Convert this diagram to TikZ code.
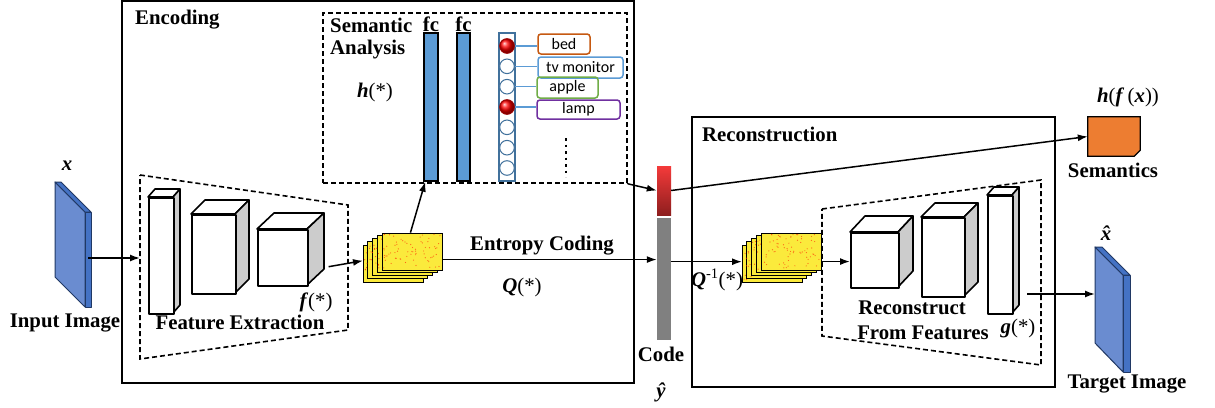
\documentclass[tikz,border=0pt]{standalone}
\usepackage{fontspec}
\setmainfont{Liberation Serif}
\newfontfamily\lblfont{Carlito}
\usetikzlibrary{arrows.meta,calc}
\definecolor{fcblue}{HTML}{5B9BD5}
\definecolor{colblue}{HTML}{41719C}
\definecolor{bedc}{HTML}{C65911}
\definecolor{tvc}{HTML}{5B9BD5}
\definecolor{applec}{HTML}{70AD47}
\definecolor{lampc}{HTML}{7030A0}
\definecolor{imgfront}{HTML}{6A8CD0}
\definecolor{imgside}{HTML}{4472C4}
\definecolor{imgedge}{HTML}{203864}
\definecolor{fmyellow}{HTML}{FBEA3C}
\definecolor{semorange}{HTML}{ED7D31}
\definecolor{codegray}{HTML}{808080}
\definecolor{codetop}{HTML}{F43A3A}
\definecolor{codebot}{HTML}{8E1E1E}

\newcommand\cuboid[7]{%
  \filldraw[cubeedge, fill=white] (#2,#3) -- ++(#6,-#7) -- ++(#4,0) -- ++(-#6,#7) -- cycle;
  \filldraw[cubeedge, fill=gray!40] (#2+#4,#3) -- ++(#6,-#7) -- ++(0,#5) -- ++(-#6,#7) -- cycle;
  \node[cubeedge, fill=white, inner sep=0pt, minimum width=#4pt, minimum height=#5pt, anchor=north west] (#1) at (#2,#3) {};
}
\newcommand\fmstack[3]{%
  \node[inner sep=0pt, minimum width=60pt, minimum height=37pt, anchor=north west] (#1b) at (#2,#3) {};
  \foreach \i in {0,...,3} \draw[fmsheet] (#2+4.75*\i,#3-3.1*\i) rectangle ++(60,37);
  \foreach \i in {0,...,3} \foreach \k in {1,...,6}
    \fill[red!80!orange, opacity=0.7] (#2+1+4*rnd+4.75*\i,#3+2+33*rnd-3.1*\i) circle (0.6pt);
  \node[fmsheet, inner sep=0pt, minimum width=60pt, minimum height=37pt, anchor=north west] (#1) at (#2+19,#3-12.4) {};
  \foreach \k in {1,...,70}
    \fill[red!75!orange, opacity=0.65] ($(#1.north west)+(1.5+57*rnd,1.5+34*rnd)$) circle (0.6pt);
}

\begin{document}
\begin{tikzpicture}[x=1pt,y=-1pt,
  title/.style={font=\fontsize{20.8}{22}\selectfont\bfseries, inner sep=0pt},
  mathlbl/.style={font=\fontsize{20.8}{22}\selectfont, inner sep=0pt},
  frame/.style={draw, line width=1.6pt, inner sep=0pt},
  dbox/.style={draw, line width=1.6pt, dash pattern=on 5pt off 3pt},
  arr/.style={-{Latex[length=10pt,width=7pt]}, line width=1.5pt},
  cubeedge/.style={draw, line width=1.6pt, line join=round},
  fmsheet/.style={draw, fill=fmyellow, line width=0.9pt},
  fcbar/.style={draw, fill=fcblue, line width=1.5pt, inner sep=0pt},
  neuron/.style={circle, draw=colblue, fill=white, line width=1pt, minimum size=14.6pt, inner sep=0pt},
  active/.style={neuron, draw=red!60!black, ball color=red},
  tag/.style={draw=#1, rounded corners=3pt, line width=1.5pt, font=\lblfont\fontsize{16}{18}\selectfont, inner sep=0pt},
  tagline/.style={draw=fcblue, line width=1.5pt},
  slab/.style={draw=imgedge, line width=1pt, line join=round}
]
\pgfmathsetseed{11}
\useasboundingbox (0,0) rectangle (1215,407);
\fill[white] (0,0) rectangle (1215,407);

% ---------- Encoding ----------
\node[frame, minimum width=512pt, minimum height=382pt] (enc) at (378,192) {};
\node[title, anchor=west] (enctitle) at (135,20) {Encoding};

% Semantic analysis
\node[dbox, minimum width=304pt, minimum height=170pt, inner sep=0pt] (sem) at (475,98) {};
\node[title, anchor=west] (semt1) at (330,25) {Semantic};
\node[title, anchor=west] (semt2) at (330,50) {Analysis};
\node[mathlbl] (hstar) at (375,92) {\textbf{\textit{h}}(*)};
\node[fcbar, minimum width=14pt, minimum height=148pt] (fc1) at (431,107) {};
\node[fcbar, minimum width=13pt, minimum height=148pt] (fc2) at (463.5,107) {};
\node[title, anchor=base] (fct1) at (431,31) {fc};
\node[title, anchor=base] (fct2) at (463.5,31) {fc};
\node[draw=colblue, line width=1.2pt, minimum width=16pt, minimum height=148pt, inner sep=0pt] (col) at (507,107) {};
\foreach \cy/\st [count=\k] in {46/active,66.3/neuron,86.7/neuron,107/active,127.3/neuron,147.7/neuron,168/neuron}
  \node[\st] (n\k) at (507,\cy) {};
\node[tag=bedc, minimum width=52pt, minimum height=20pt] (bed) at (564,44) {bed};
\node[tag=tvc, minimum width=85pt, minimum height=21pt] (tv) at (580.5,67.5) {tv monitor};
\node[tag=applec, minimum width=61pt, minimum height=21pt] (apple) at (567.5,87.5) {apple};
\node[tag=lampc, minimum width=83pt, minimum height=19pt] (lamp) at (578.5,109.5) {lamp};
\draw[tagline] (n1.east) -- (n1.east -| bed.west);
\draw[tagline] (n2.east) -- (n2.east -| tv.west);
\draw[tagline] (n3.east) -- (n3.east -| apple.west);
\draw[tagline] (n4.east) -- (n4.east -| lamp.west);
\draw[line width=2.5pt, dash pattern=on 2.5pt off 4pt] (566,138) -- (566,177);

% Feature extraction
\draw[dbox] (140,175) -- (348,205) -- (348,330) -- (140,359) -- cycle;
\cuboid{e1}{148}{197}{25}{116}{7}{8}
\cuboid{e2}{191}{214}{44}{79}{14}{14}
\cuboid{e3}{257}{229}{50}{56}{17}{16}
\node[mathlbl] (fstar) at (316,302) {\textbf{\textit{f}}(*)};
\node[title] (fetitle) at (240,322) {Feature Extraction};

% Input image
\filldraw[slab, fill=imgfront] (55,182) -- (85,212) -- (85,307) -- (55,277) -- cycle;
\filldraw[slab, fill=imgside] (85,212) -- (91,212) -- (91,307) -- (85,307) -- cycle;
\filldraw[slab, fill=imgside] (55,182) -- (61,182) -- (91,212) -- (85,212) -- cycle;
\coordinate (inR) at (88,258);
\coordinate (feL) at (140,258);
\draw[arr] (inR) -- (feL);
\node[title] (xlbl) at (67,166) {\textit{x}};
\node[title] (inlbl) at (65,323) {Input Image};

% Encoder feature maps
\fmstack{efm}{363}{245}
\draw[arr] ([xshift=20pt]e3.east |- efmb.west) ++(0,3) -- ([yshift=3pt]efmb.west);
\draw[arr] ([xshift=-2pt]efm.north) -- ([xshift=2pt]fc1.south west);

% Code
\node[fill=codegray, minimum width=14pt, minimum height=122pt, inner sep=0pt] (cgray) at (664,279) {};
\node[inner sep=0pt, minimum width=14pt, minimum height=49pt, top color=codetop, bottom color=codebot] (cred) at (664,190.5) {};
\draw[arr] ([yshift=-8pt]efm.east) -- ([yshift=-8pt]efm.east -| cgray.west);
\node[title] (entlbl) at (542,246) {Entropy Coding};
\node[mathlbl] (qlbl) at (522,287) {\textbf{\textit{Q}}(*)};
\node[title] (codelbl) at (661,354) {Code};
\node[title] (yhat) at (661,392) {\textit{ŷ}};
\draw[arr] (sem.south east) -- (cred.west);

% Semantics output
\node[minimum width=52pt, minimum height=39pt, inner sep=0pt] (semout) at (1114,136.5) {};
\filldraw[fill=semorange, draw=black, line width=1.2pt] (semout.north west) -- (semout.north east) -- ([yshift=6pt]semout.south east) -- ([xshift=-6pt]semout.south east) -- (semout.south west) -- cycle;
\draw[arr] (cred.east) -- (semout.west);
\node[title] (semlbl) at (1113,170) {Semantics};
\node[mathlbl] (hfx) at (1128,97) {\textbf{\textit{h}}(\textbf{\textit{f}}\,(\textbf{\textit{x}}))};

% ---------- Reconstruction ----------
\node[frame, minimum width=363pt, minimum height=270pt] (rec) at (873.5,252) {};
\node[title, anchor=west] (rectitle) at (702,134) {Reconstruction};
\fmstack{dfm}{742}{245}
\draw[arr] ([yshift=2pt]dfmb.west -| cgray.east) -- ([yshift=2pt]dfmb.west);
\node[mathlbl] (qinv) at (717,280) {\textbf{\textit{Q}}\textsuperscript{-1}(*)};
\draw[dbox] (822,209) -- (1041,180) -- (1041,365) -- (822,336) -- cycle;
\cuboid{dA}{850}{232}{48}{55}{15}{16}
\cuboid{dB}{921}{217}{43}{79}{14}{14}
\cuboid{dC}{987}{195}{25}{118}{7}{8}
\draw[arr] ([yshift=-10pt]dfm.east) -- ([yshift=-10pt]dfm.east -| dA.west);
\node[title] (rc1) at (912,308) {Reconstruct};
\node[title] (rc2) at (923,333) {From Features};
\node[mathlbl] (gstar) at (1018,328) {\textbf{\textit{g}}(*)};

% Target image
\filldraw[slab, fill=imgfront] (1095,247) -- (1123,275) -- (1123,372) -- (1095,343) -- cycle;
\filldraw[slab, fill=imgside] (1123,275) -- (1130,275) -- (1130,372) -- (1123,372) -- cycle;
\filldraw[slab, fill=imgside] (1095,247) -- (1102,247) -- (1130,275) -- (1123,275) -- cycle;
\coordinate (gout) at (1027,294);
\coordinate (tgtL) at (1095,294);
\draw[arr] (gout) -- (tgtL);
\node[title] (xhat) at (1106,233) {\itshape\^{x}};
\node[title] (tgtlbl) at (1127,384) {Target Image};
\end{tikzpicture}
\end{document}
